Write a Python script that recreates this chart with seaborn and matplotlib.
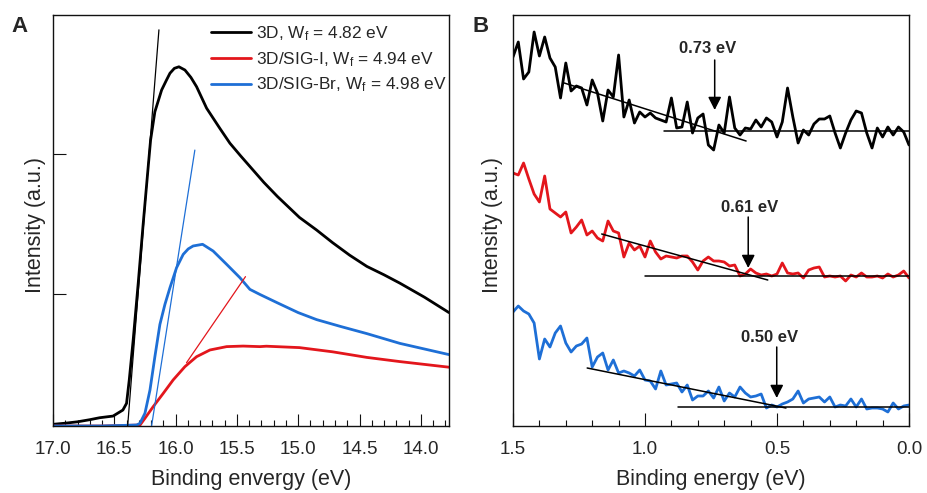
import matplotlib
matplotlib.use("Agg")
import matplotlib.pyplot as plt
import seaborn as sns
import pandas as pd
from matplotlib.ticker import MultipleLocator, FormatStrFormatter

# ---------------- Panel A data (secondary electron cutoff) ----------------
a_3d_x = [17.00, 16.90, 16.80, 16.70, 16.62, 16.51, 16.43, 16.40, 16.378, 16.346,
          16.305, 16.264, 16.223, 16.204, 16.169, 16.114, 16.075, 16.046, 16.01, 15.973,
          15.924, 15.875, 15.829, 15.747, 15.639, 15.557, 15.47, 15.39, 15.28, 15.17,
          14.99, 14.85, 14.72, 14.58, 14.44, 14.30, 14.17, 13.97, 13.77]
a_3d_y = [0.012, 0.02, 0.03, 0.045, 0.059, 0.071, 0.114, 0.162, 0.329, 0.614,
          1.019, 1.448, 1.857, 2.043, 2.245, 2.40, 2.47, 2.52, 2.555, 2.566,
          2.543, 2.49, 2.424, 2.27, 2.126, 2.02, 1.93, 1.85, 1.74, 1.64,
          1.49, 1.40, 1.31, 1.22, 1.14, 1.08, 1.02, 0.92, 0.81]

a_i_x = [17.00, 16.60, 16.29, 16.25, 16.183, 16.101, 16.02, 15.924, 15.829, 15.72,
         15.584, 15.449, 15.313, 15.26, 14.99, 14.72, 14.44, 14.17, 13.77]
a_i_y = [0.0, 0.0, 0.007, 0.055, 0.138, 0.233, 0.329, 0.424, 0.495, 0.543,
         0.567, 0.571, 0.567, 0.57, 0.56, 0.53, 0.49, 0.46, 0.42]

a_br_x = [17.00, 16.60, 16.318, 16.291, 16.25, 16.209, 16.169, 16.128, 16.087, 16.046,
          15.992, 15.938, 15.897, 15.857, 15.78, 15.694, 15.584, 15.476, 15.394, 15.313,
          15.17, 15.0, 14.85, 14.65, 14.44, 14.17, 13.77]
a_br_y = [0.0, 0.0, 0.007, 0.019, 0.091, 0.257, 0.495, 0.726, 0.869, 0.988,
          1.131, 1.226, 1.265, 1.286, 1.298, 1.25, 1.155, 1.06, 0.976, 0.94,
          0.88, 0.81, 0.76, 0.71, 0.66, 0.59, 0.51]

# tangent lines (panel A)
tan_3d_x = [16.391, 16.136]
tan_3d_y = [0.0, 2.83]
tan_i_x = [15.911, 15.43]
tan_i_y = [0.452, 1.067]
tan_br_x = [16.196, 15.843]
tan_br_y = [0.0, 1.971]

labels_a = [r"3D, W$_{\mathrm{f}}$ = 4.82 eV",
            r"3D/SIG-I, W$_{\mathrm{f}}$ = 4.94 eV",
            r"3D/SIG-Br, W$_{\mathrm{f}}$ = 4.98 eV"]

# ---------------- Panel B data (valence band edge) ----------------
b_x = [1.50, 1.48, 1.46, 1.44, 1.42, 1.40, 1.38, 1.36, 1.34, 1.32,
       1.30, 1.28, 1.26, 1.24, 1.22, 1.20, 1.18, 1.16, 1.14, 1.12,
       1.10, 1.08, 1.06, 1.04, 1.02, 1.00, 0.98, 0.96, 0.94, 0.92,
       0.90, 0.88, 0.86, 0.84, 0.82, 0.80, 0.78, 0.76, 0.74, 0.72,
       0.70, 0.68, 0.66, 0.64, 0.62, 0.60, 0.58, 0.56, 0.54, 0.52,
       0.50, 0.48, 0.46, 0.44, 0.42, 0.40, 0.38, 0.36, 0.34, 0.32,
       0.30, 0.28, 0.26, 0.24, 0.22, 0.20, 0.18, 0.16, 0.14, 0.12,
       0.10, 0.08, 0.06, 0.04, 0.02, 0.00]

b_3d = [3.69, 3.84, 3.47, 3.54, 3.94, 3.70, 3.89, 3.68, 3.59, 3.28,
        3.63, 3.35, 3.40, 3.38, 3.21, 3.46, 3.33, 3.05, 3.36, 3.29,
        3.71, 3.09, 3.26, 3.03, 3.14, 3.09, 3.13, 3.08, 3.06, 3.04,
        3.28, 2.98, 2.99, 3.24, 2.93, 3.08, 3.12, 2.81, 2.76, 3.01,
        2.93, 3.29, 2.98, 2.91, 2.98, 2.97, 3.06, 2.99, 3.08, 3.04,
        2.89, 3.04, 3.38, 3.09, 2.83, 2.96, 2.91, 3.02, 3.07, 3.07,
        3.10, 2.93, 2.78, 2.93, 3.06, 3.15, 3.13, 2.93, 2.78, 2.98,
        2.89, 2.99, 2.91, 2.99, 2.94, 2.81]

b_i = [2.53, 2.51, 2.63, 2.47, 2.32, 2.24, 2.50, 2.17, 2.13, 2.09,
       2.14, 1.93, 1.99, 2.06, 1.91, 1.95, 1.88, 1.85, 2.05, 1.95,
       1.93, 1.69, 1.83, 1.76, 1.80, 1.69, 1.85, 1.74, 1.67, 1.70,
       1.69, 1.68, 1.70, 1.70, 1.64, 1.56, 1.65, 1.69, 1.65, 1.65,
       1.64, 1.60, 1.61, 1.50, 1.52, 1.57, 1.53, 1.51, 1.52, 1.50,
       1.52, 1.63, 1.53, 1.52, 1.53, 1.48, 1.56, 1.58, 1.59, 1.49,
       1.50, 1.49, 1.50, 1.45, 1.51, 1.49, 1.53, 1.49, 1.49, 1.50,
       1.48, 1.52, 1.49, 1.51, 1.55, 1.48]

b_br = [1.14, 1.20, 1.15, 1.12, 1.03, 0.67, 0.87, 0.79, 0.93, 1.00,
        0.83, 0.74, 0.80, 0.82, 0.88, 0.59, 0.69, 0.73, 0.56, 0.66,
        0.53, 0.55, 0.53, 0.50, 0.56, 0.46, 0.45, 0.37, 0.55, 0.41,
        0.42, 0.43, 0.34, 0.41, 0.26, 0.30, 0.30, 0.35, 0.28, 0.39,
        0.25, 0.33, 0.29, 0.39, 0.33, 0.29, 0.30, 0.32, 0.18, 0.21,
        0.19, 0.22, 0.24, 0.27, 0.35, 0.23, 0.27, 0.28, 0.29, 0.24,
        0.29, 0.19, 0.21, 0.20, 0.27, 0.19, 0.27, 0.17, 0.18, 0.18,
        0.17, 0.14, 0.23, 0.17, 0.20, 0.21]

# fit / baseline lines (panel B)
fit_3d_x, fit_3d_y = [1.306, 0.617], [3.43, 2.85]
base_3d_x, base_3d_y = [0.928, 0.0], [2.95, 2.95]
fit_i_x, fit_i_y = [1.164, 0.535], [1.92, 1.46]
base_i_x, base_i_y = [1.0, 0.0], [1.50, 1.50]
fit_br_x, fit_br_y = [1.219, 0.466], [0.58, 0.18]
base_br_x, base_br_y = [0.876, 0.0], [0.19, 0.19]

# VBM annotations: label, arrow x, arrow start y, arrow tip y, text x, text y
vbm_labels = ["0.73 eV", "0.61 eV", "0.50 eV"]
vbm_x = [0.736, 0.609, 0.501]
vbm_y0 = [3.66, 2.09, 0.79]
vbm_y1 = [3.16, 1.58, 0.28]
vbm_tx = [0.762, 0.605, 0.527]
vbm_ty = [3.78, 2.19, 0.89]

BLACK = "#000000"
RED = "#e3161c"
BLUE = "#1e6fd6"

sns.set_theme(style="white")
plt.rcParams["font.family"] = ["Liberation Sans", "DejaVu Sans"]
plt.rcParams["mathtext.fontset"] = "custom"
plt.rcParams["mathtext.rm"] = "Liberation Sans"
plt.rcParams["mathtext.it"] = "Liberation Sans:italic"
plt.rcParams["axes.edgecolor"] = "#111111"

fig = plt.figure(figsize=(9.27, 4.93), dpi=100)
axA = fig.add_axes([53 / 927, 1 - 426 / 493, 396 / 927, 411 / 493])
axB = fig.add_axes([513 / 927, 1 - 426 / 493, 396 / 927, 411 / 493])

# ---------------- Panel A ----------------
dfs = [(a_3d_x, a_3d_y, BLACK), (a_i_x, a_i_y, RED), (a_br_x, a_br_y, BLUE)]
handles = []
for (xs, ys, c), lab in zip(dfs, labels_a):
    sns.lineplot(x=xs, y=ys, ax=axA, color=c, lw=2.0, sort=False, estimator=None)
    handles.append(axA.lines[-1])
for xs, ys, c in [(tan_3d_x, tan_3d_y, BLACK), (tan_i_x, tan_i_y, RED), (tan_br_x, tan_br_y, BLUE)]:
    sns.lineplot(x=xs, y=ys, ax=axA, color=c, lw=0.9, sort=False, estimator=None)

axA.set_xlim(17.0, 13.77)
axA.set_ylim(0, 2.936)
axA.xaxis.set_major_locator(MultipleLocator(0.5))
axA.xaxis.set_minor_locator(MultipleLocator(0.1))
axA.xaxis.set_major_formatter(FormatStrFormatter("%.1f"))
axA.set_yticks([0.943, 1.943])
axA.tick_params(axis="x", which="major", direction="in", length=8.6, width=0.8,
                labelsize=13.5, pad=10.5, bottom=True, color="#111111")
axA.tick_params(axis="x", which="minor", direction="in", length=4.3, width=0.8,
                bottom=True, color="#111111")
axA.tick_params(axis="y", which="major", direction="in", length=9.4, width=0.8,
                labelleft=False, left=True, color="#111111")
axA.set_xlabel("Binding envergy (eV)", fontsize=15.5)
axA.set_ylabel("Intensity (a.u.)", fontsize=15.5)
axA.yaxis.set_label_coords(-0.017, 0.49)
axA.xaxis.set_label_coords(0.5, -0.105)
leg = axA.legend(handles, labels_a, loc="upper left", bbox_to_anchor=(0.399, 0.977),
                 frameon=False, fontsize=12.4, handlelength=2.33, handletextpad=0.3,
                 labelspacing=0.4, borderpad=0, borderaxespad=0)
for h in leg.get_lines():
    h.set_linewidth(2.0)

# ---------------- Panel B ----------------
for ys, c in [(b_3d, BLACK), (b_i, RED), (b_br, BLUE)]:
    sns.lineplot(x=b_x, y=ys, ax=axB, color=c, lw=2.0, sort=False, estimator=None)
for xs, ys in [(fit_3d_x, fit_3d_y), (base_3d_x, base_3d_y), (fit_i_x, fit_i_y),
               (base_i_x, base_i_y), (fit_br_x, fit_br_y), (base_br_x, base_br_y)]:
    sns.lineplot(x=xs, y=ys, ax=axB, color=BLACK, lw=1.1, sort=False, estimator=None)

for lab, x, y0, y1, tx, ty in zip(vbm_labels, vbm_x, vbm_y0, vbm_y1, vbm_tx, vbm_ty):
    axB.annotate("", xy=(x, y1), xytext=(x, y0),
                 arrowprops=dict(arrowstyle="-|>,head_length=0.65,head_width=0.33",
                                 color=BLACK, lw=1.1, shrinkA=0, shrinkB=0))
    axB.text(tx, ty, lab, ha="center", va="center", fontsize=12, fontweight="bold")

axB.set_xlim(1.5, 0.0)
axB.set_ylim(0, 4.11)
axB.xaxis.set_major_locator(MultipleLocator(0.5))
axB.xaxis.set_minor_locator(MultipleLocator(0.1))
axB.xaxis.set_major_formatter(FormatStrFormatter("%.1f"))
axB.set_yticks([])
axB.tick_params(axis="x", which="major", direction="in", length=9.4, width=0.8,
                labelsize=13.5, pad=10.5, bottom=True, color="#111111")
axB.tick_params(axis="x", which="minor", direction="in", length=4.6, width=0.8,
                bottom=True, color="#111111")
axB.set_xlabel("Binding energy (eV)", fontsize=15.5)
axB.set_ylabel("Intensity (a.u.)", fontsize=15.5)
axB.yaxis.set_label_coords(-0.024, 0.49)
axB.xaxis.set_label_coords(0.5, -0.105)

for ax in (axA, axB):
    for s in ax.spines.values():
        s.set_linewidth(1.0)
        s.set_color("#111111")

fig.text(20 / 927, 1 - 26 / 493, "A", fontsize=16, fontweight="bold", ha="center", va="center")
fig.text(481 / 927, 1 - 26 / 493, "B", fontsize=16, fontweight="bold", ha="center", va="center")

fig.savefig("out.png", dpi=100)
